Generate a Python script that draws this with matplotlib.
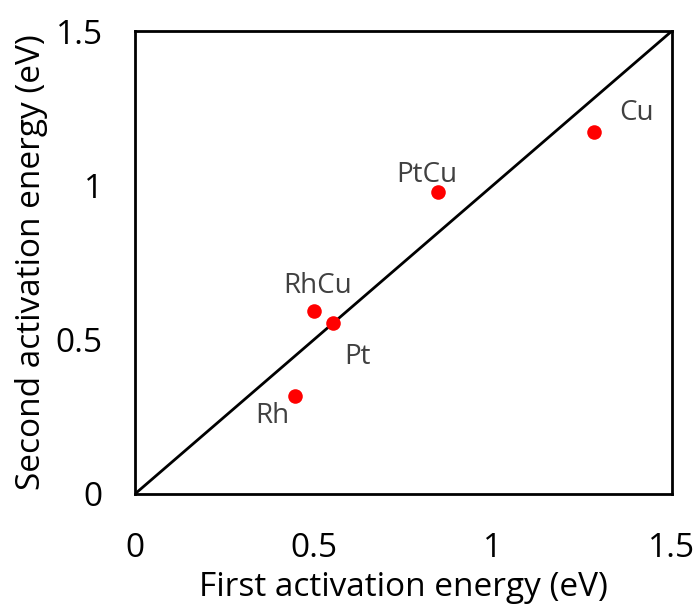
import matplotlib
matplotlib.use("Agg")
import matplotlib.pyplot as plt

# Activation energies (eV) per catalyst
catalysts = ["Rh", "RhCu", "Pt", "PtCu", "Cu"]
first_ea = [0.448, 0.501, 0.554, 0.846, 1.282]
second_ea = [0.317, 0.594, 0.555, 0.978, 1.173]

# label offsets in points relative to each marker (to the label's visual centre)
offsets = {"Rh": (-16.8, -12.2), "RhCu": (2.7, 19.9), "Pt": (17.8, -22.5),
           "PtCu": (-7.9, 14.4), "Cu": (31.0, 15.8)}

ticks = [0, 0.5, 1, 1.5]
tick_labels = ["0", "0.5", "1", "1.5"]

plt.rcParams["font.family"] = ["Open Sans", "DejaVu Sans"]

fig = plt.figure(figsize=(6.99, 6.11), dpi=100)
ax = fig.add_axes([0.193, 0.1915, 0.768, 0.7575])

ax.plot([0, 1.5], [0, 1.5], color="black", lw=2, zorder=2)
ax.scatter(first_ea, second_ea, s=110, color="#ff0000", zorder=3, linewidths=0)

label_size = 20
cap_half = 0.714 * label_size / 2
for name, x, y in zip(catalysts, first_ea, second_ea):
    dx, dy = offsets[name]
    ax.annotate(name, (x, y), xytext=(dx, dy - cap_half), textcoords="offset points",
                ha="center", va="baseline", fontsize=label_size, color="#404040")

ax.set_xlim(0, 1.5)
ax.set_ylim(0, 1.5)
ax.set_xticks(ticks)
ax.set_xticklabels(tick_labels)
ax.set_yticks(ticks)
ax.set_yticklabels(tick_labels)
ax.tick_params(length=0, labelsize=24, colors="black")
ax.tick_params(axis="y", pad=23)
ax.tick_params(axis="x", pad=27.5)
for sp in ax.spines.values():
    sp.set_linewidth(2)

ax.set_xlabel("First activation energy (eV)", fontsize=24, labelpad=4.5)
ax.set_ylabel("Second activation energy (eV)", fontsize=24, labelpad=6)

fig.savefig("out.png", dpi=100)
